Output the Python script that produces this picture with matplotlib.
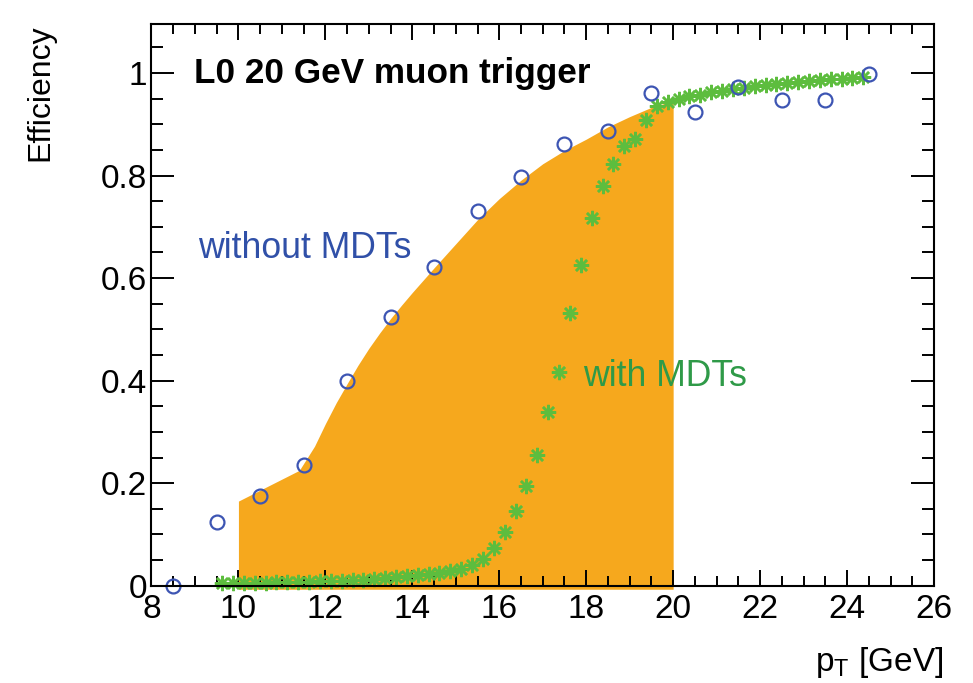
import numpy as np
import matplotlib
matplotlib.use("Agg")
import matplotlib.pyplot as plt
from matplotlib.ticker import MultipleLocator, FormatStrFormatter

plt.rcParams['font.family'] = ['Liberation Sans', 'DejaVu Sans']
plt.rcParams['mathtext.fontset'] = 'custom'
plt.rcParams['mathtext.rm'] = 'Liberation Sans'
plt.rcParams['mathtext.it'] = 'Liberation Sans:italic'

# efficiency without MDTs, 1 GeV bins
pt_nomdt = [8.5, 9.5, 10.5, 11.5, 12.5, 13.5, 14.5, 15.5, 16.5,
            17.5, 18.5, 19.5, 20.5, 21.5, 22.5, 23.5, 24.5]
eff_nomdt = [0.0, 0.124, 0.175, 0.236, 0.399, 0.524, 0.622, 0.730, 0.798,
             0.861, 0.886, 0.961, 0.923, 0.972, 0.947, 0.947, 0.998]

# efficiency with MDTs, 0.25 GeV bins
pt_mdt = [9.625, 9.875, 10.125, 10.375, 10.625, 10.875, 11.125, 11.375,
          11.625, 11.875, 12.125, 12.375, 12.625, 12.875, 13.125, 13.375,
          13.625, 13.875, 14.125, 14.375, 14.625, 14.875, 15.125, 15.375,
          15.625, 15.875, 16.125, 16.375, 16.625, 16.875, 17.125, 17.375,
          17.625, 17.875, 18.125, 18.375, 18.625, 18.875, 19.125, 19.375,
          19.625, 19.875, 20.125, 20.375, 20.625, 20.875, 21.125, 21.375,
          21.625, 21.875, 22.125, 22.375, 22.625, 22.875, 23.125, 23.375,
          23.625, 23.875, 24.125, 24.375]
eff_mdt = [0.005, 0.005, 0.005, 0.006, 0.006, 0.007, 0.007, 0.008,
           0.008, 0.009, 0.009, 0.010, 0.011, 0.012, 0.013, 0.014,
           0.016, 0.018, 0.020, 0.022, 0.025, 0.028, 0.032, 0.040,
           0.053, 0.074, 0.105, 0.145, 0.195, 0.254, 0.338, 0.416,
           0.532, 0.625, 0.717, 0.779, 0.823, 0.858, 0.871, 0.908,
           0.936, 0.944, 0.950, 0.955, 0.958, 0.962, 0.965, 0.968,
           0.971, 0.974, 0.976, 0.978, 0.980, 0.982, 0.984, 0.986,
           0.988, 0.989, 0.991, 0.993]

# shaded band between 10 and 20 GeV
band_x = [10.0, 11.4, 11.75, 12.0, 12.25, 12.5, 12.75, 13.0, 13.25, 13.5,
          13.75, 14.0, 14.5, 15.0, 15.5, 16.0, 16.5, 17.0, 17.5, 18.0,
          18.5, 19.0, 19.5, 20.0]
band_y = [0.165, 0.225, 0.272, 0.316, 0.357, 0.394, 0.430, 0.463, 0.493, 0.521,
          0.547, 0.572, 0.620, 0.667, 0.714, 0.755, 0.791, 0.823, 0.849, 0.871,
          0.895, 0.915, 0.933, 0.946]

fig = plt.figure(figsize=(9.73, 6.83), dpi=100)
ax = fig.add_axes([0.1557, 0.1425, 0.8042, 0.8219])

ax.fill_between(band_x, -0.007, band_y, color='#f6a81d', lw=0, zorder=1,
                clip_on=False)

ax.plot(pt_mdt, eff_mdt, ls='none', marker=(8, 2, 0), ms=11,
        mec='#5dbd3e', mew=1.8, zorder=3, clip_on=False)
ax.plot(pt_nomdt, eff_nomdt, ls='none', marker='o', ms=10, mfc='none',
        mec='#3d55b3', mew=1.6, zorder=4, clip_on=False)

ax.text(8.97, 0.980, 'L0 20 GeV muon trigger', fontsize=25.3, fontweight='bold',
        ha='left', va='baseline')
ax.text(9.06, 0.640, 'without MDTs', fontsize=25.7, color='#3050a8',
        ha='left', va='baseline')
ax.text(17.92, 0.389, 'with MDTs', fontsize=25.7, color='#2f9a48',
        ha='left', va='baseline')

ax.set_xlim(8, 26)
ax.set_ylim(0, 1.095)
ax.xaxis.set_major_locator(MultipleLocator(2))
ax.xaxis.set_minor_locator(MultipleLocator(0.5))
ax.yaxis.set_major_locator(MultipleLocator(0.2))
ax.yaxis.set_minor_locator(MultipleLocator(0.05))
ax.yaxis.set_major_formatter(FormatStrFormatter('%g'))

ax.tick_params(which='both', direction='in', top=True, right=True,
               width=1.4, labelsize=24)
ax.tick_params(axis='x', which='major', length=11.5, pad=6)
ax.tick_params(axis='x', which='minor', length=7)
ax.tick_params(axis='y', which='major', length=16.5, pad=3)
ax.tick_params(axis='y', which='minor', length=8.5)
for sp in ax.spines.values():
    sp.set_linewidth(1.5)
    sp.set_zorder(5)

ax.set_ylabel('Efficiency', fontsize=23, loc='top')
ax.yaxis.set_label_coords(-0.123, 1.0)
ax.set_xlabel(r'p$_{\mathrm{T}}$ [GeV]', fontsize=24, loc='right')
ax.xaxis.set_label_coords(1.0115, -0.152)
ax.xaxis.label.set_va('baseline')

fig.savefig('out.png', dpi=100)
